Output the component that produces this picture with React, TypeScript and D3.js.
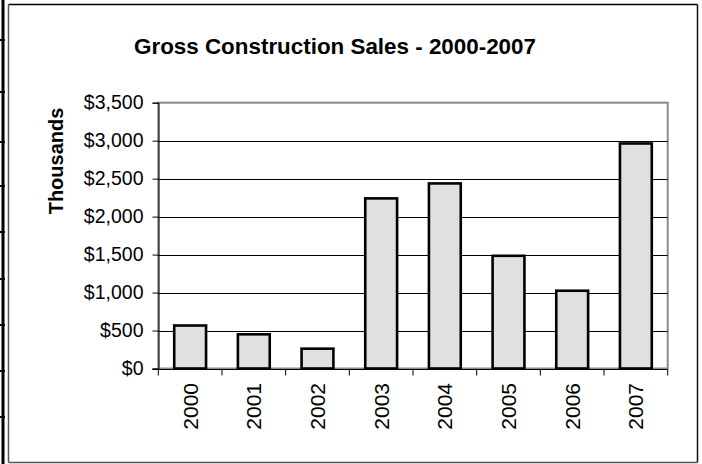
import { FC, useEffect, useRef } from "react"
import * as d3 from 'd3';

const YEARS = ['2000', '2001', '2002', '2003', '2004', '2005', '2006', '2007']
const SALES = [566, 450, 261, 2240, 2437, 1484, 1024, 2963]
const Y_TICKS = [0, 500, 1000, 1500, 2000, 2500, 3000, 3500]
// spreadsheet row lines visible along the left edge
const ROW_LINES = [40, 92, 142, 186, 232, 279, 325, 371, 417]

const FONT = "'Liberation Sans', Arial, sans-serif"

const BarChart: FC = () => {
    const svgRef = useRef<SVGSVGElement>(null);

    useEffect(() => {
        const width = 702
        const height = 464
        const margin = { top: 102.7, right: 702 - 667.7, bottom: 464 - 368.5, left: 158.3 }
        const svg = d3.select(svgRef.current)
            .attr("width", width)
            .attr("height", height)
            .style('background', '#fff')
        svg.selectAll("*").remove();

        // left edge of the worksheet
        svg.append('rect')
            .attr('x', 1.5).attr('y', 0).attr('width', 3).attr('height', height)
            .attr('fill', '#000')
        svg.selectAll('.row')
            .data(ROW_LINES)
            .join('rect')
            .attr('x', 0).attr('y', d => d - 1).attr('width', 5).attr('height', 2)
            .attr('fill', '#000')

        // chart frame
        svg.append('line').attr('x1', 8.5).attr('x2', 697.5).attr('y1', 4.5).attr('y2', 4.5)
            .attr('stroke', '#000').attr('stroke-width', 1.3)
        svg.append('line').attr('x1', 697.5).attr('x2', 697.5).attr('y1', 4.5).attr('y2', 462.5)
            .attr('stroke', '#111').attr('stroke-width', 1.5)
        svg.append('line').attr('x1', 8.5).attr('x2', 8.5).attr('y1', 4.5).attr('y2', 462.5)
            .attr('stroke', '#555').attr('stroke-width', 1.5)
        svg.append('line').attr('x1', 8.5).attr('x2', 697.5).attr('y1', 462.5).attr('y2', 462.5)
            .attr('stroke', '#555').attr('stroke-width', 1.5)

        const innerW = width - margin.left - margin.right
        const innerH = height - margin.top - margin.bottom

        const xScale = d3.scaleBand<string>()
            .domain(YEARS)
            .range([margin.left, margin.left + innerW])
            .paddingInner(0.5)
            .paddingOuter(0.25)
        const yScale = d3.scaleLinear()
            .domain([0, 3500])
            .range([margin.top + innerH, margin.top])

        //plot area border (gray)
        svg.append('rect')
            .attr('x', margin.left).attr('y', margin.top)
            .attr('width', innerW).attr('height', innerH)
            .attr('fill', 'none').attr('stroke', '#8a8a8a').attr('stroke-width', 2)

        // gridlines
        svg.selectAll('.grid')
            .data(Y_TICKS.filter(d => d > 0 && d < 3500))
            .join('line')
            .attr('x1', margin.left).attr('x2', margin.left + innerW)
            .attr('y1', d => Math.round(yScale(d)) + 0.5).attr('y2', d => Math.round(yScale(d)) + 0.5)
            .attr('stroke', '#000').attr('stroke-width', 1)

        // bars
        svg.selectAll('.bar')
            .data(SALES)
            .join('rect')
            .attr('x', (_, i) => xScale(YEARS[i])!)
            .attr('width', xScale.bandwidth())
            .attr('y', d => yScale(d))
            .attr('height', d => yScale(0) - yScale(d))
            .attr('fill', '#e0e0e0')
            .attr('stroke', '#000')
            .attr('stroke-width', 2.6)

        // y axis
        const yAxis = d3.axisLeft(yScale)
            .tickValues(Y_TICKS)
            .tickSize(6)
            .tickPadding(9)
            .tickFormat(d => `$${d3.format(',')(d as number)}`)
        const yg = svg.append('g')
            .attr('transform', `translate(${Math.round(margin.left) + 0.5},0)`)
            .call(yAxis)
        yg.attr('font-size', null).attr('font-family', null)
        yg.select('.domain').attr('stroke', '#000')
        yg.selectAll('.tick line').attr('stroke', '#000')
        yg.selectAll('.tick text')
            .attr('font-family', FONT).attr('font-size', 19.5).attr('fill', '#000')

        // x axis: ticks on category boundaries
        const yBase = Math.round(yScale(0)) + 0.5
        svg.append('line')
            .attr('x1', margin.left - 6).attr('x2', margin.left + innerW)
            .attr('y1', yBase).attr('y2', yBase).attr('stroke', '#000')
        const step = xScale.step()
        svg.selectAll('.xtick')
            .data(d3.range(YEARS.length + 1))
            .join('line')
            .attr('x1', i => margin.left + i * step).attr('x2', i => margin.left + i * step)
            .attr('y1', yBase).attr('y2', yBase + 6)
            .attr('stroke', '#000')
        svg.selectAll('.xlabel')
            .data(YEARS)
            .join('text')
            .attr('transform', d => `translate(${xScale(d)! + xScale.bandwidth() / 2},383) rotate(-90)`)
            .attr('text-anchor', 'end')
            .attr('dominant-baseline', 'central')
            .attr('font-family', FONT)
            .attr('font-size', 21)
            .text(d => d)

        // titles
        svg.append('text')
            .attr('x', 335).attr('y', 53.5)
            .attr('text-anchor', 'middle')
            .attr('font-family', FONT).attr('font-weight', 'bold').attr('font-size', 22.4)
            .text('Gross Construction Sales - 2000-2007')
        svg.append('text')
            .attr('transform', 'translate(63,161) rotate(-90)')
            .attr('text-anchor', 'middle')
            .attr('font-family', FONT).attr('font-weight', 'bold').attr('font-size', 20)
            .text('Thousands')
    }, [])

    return (
        <svg ref={svgRef} style={{ position: 'absolute', left: 0, top: 0 }}></svg>
    )
}

export default function App() {
    return <BarChart />
}
